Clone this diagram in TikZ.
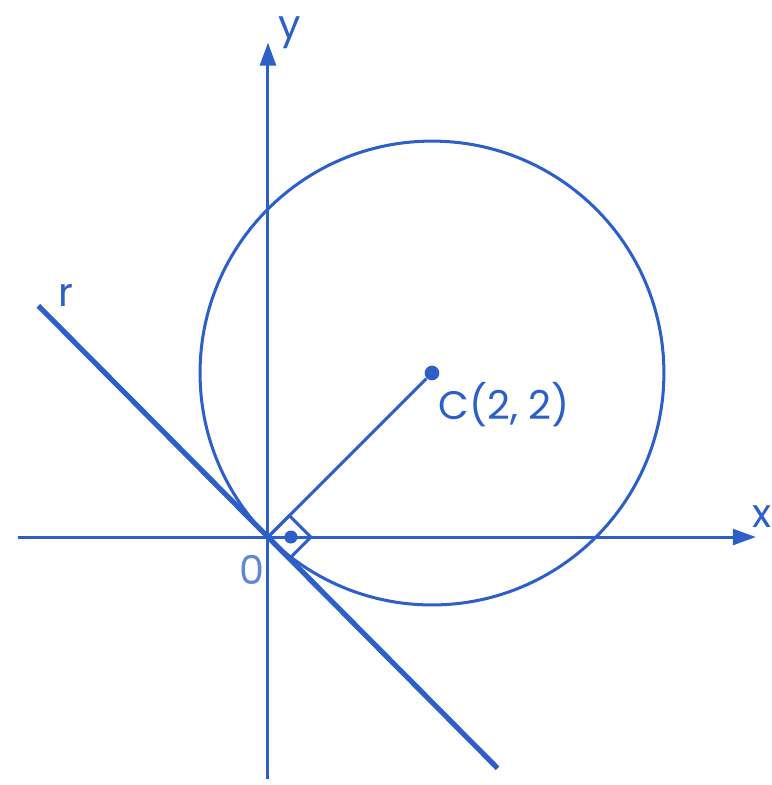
\documentclass[tikz,border=0pt]{standalone}
\usepackage{fontspec}
\setmainfont{Poppins}
\usetikzlibrary{arrows.meta}
\definecolor{ink}{RGB}{45,95,200}
\begin{document}
\begin{tikzpicture}[x=1cm,y=1cm,
  thin line/.style={ink, line width=1.05pt},
  thick line/.style={ink, line width=1.8pt},
  lbl/.style={text=ink, font=\fontsize{13.8}{16}\selectfont},
  axisarrow/.style={-{Triangle[length=8pt,width=5.5pt]}}]
\useasboundingbox (-3.268,-3.024) rectangle (6.146,6.549);
\coordinate (O) at (0,0);
\node[circle, fill=ink, inner sep=1.8pt] (C) at (2,2) {};
\coordinate (xs) at (-3.05,0);
\coordinate (xe) at (5.95,0);
\coordinate (ys) at (0,-2.95);
\coordinate (ye) at (0,6.03);
\coordinate (r1) at (-2.8,2.82);
\coordinate (r2) at (2.8,-2.82);
\draw[thin line, axisarrow] (xs) -- (xe);
\draw[thin line, axisarrow] (ys) -- (ye);
\draw[thin line] (2,2) circle ({sqrt(8)});
\draw[thin line] (O) -- (C);
\draw[thick line] (r1) -- (r2);
\draw[thin line] (O) -- (45:0.37) -- ++(-45:0.37) -- ++(-135:0.37);
\node[circle, fill=ink, inner sep=1.6pt] (dot) at (0.28,0) {};
\node[lbl] (ylab) at (0.27,6.15) {y};
\node[lbl] (xlab) at (6.03,0.25) {x};
\node[lbl, text=ink!75] (olab) at (-0.2,-0.4) {0};
\node[lbl] (clab) at (2.88,1.62) {C(2, 2)};
\node[lbl] (rlab) at (-2.47,2.95) {r};
\end{tikzpicture}
\end{document}
